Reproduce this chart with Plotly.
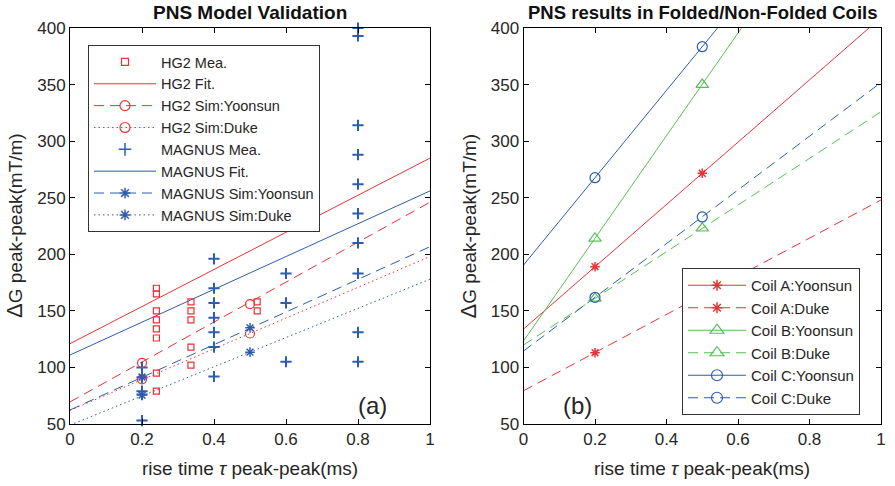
import plotly.graph_objects as go

# ---------------- data: left panel (a) ----------------
hg2_mea_x = [0.24]*8 + [0.336]*5 + [0.52]*2
hg2_mea_y = [170, 165, 150, 142, 134, 126, 95, 79,
             158, 150, 142, 118, 102,
             158, 150]
hg2_fit_x = [0, 1]
hg2_fit_y = [121, 285]
hg2_simY_x = [0.2, 0.5]
hg2_simY_y = [104, 156]
hg2_simY_line = [69.5, 246]
hg2_simD_x = [0.2, 0.5]
hg2_simD_y = [89.5, 130]
hg2_simD_line = [62, 198]

mag_mea_x = [0.2]*5 + [0.4]*7 + [0.6]*3 + [0.8]*10
mag_mea_y = [100, 91, 79, 76, 53,
             196, 170, 157, 144, 131, 118, 92,
             183, 157, 105,
             400, 393, 314, 288, 262, 236, 210, 183, 131, 105]
mag_fit_x = [0, 1]
mag_fit_y = [111, 256]
mag_simY_x = [0.2, 0.5]
mag_simY_y = [91.5, 135]
mag_simY_line = [62.4, 206.7]
mag_simD_x = [0.2, 0.5]
mag_simD_y = [75.6, 113.5]
mag_simD_line = [49, 178]

# ---------------- data: right panel (b) ----------------
line_x = [0, 1]
coil_pts_x = [0.2, 0.5]
coilA_Y = [189, 271.6]
coilA_Y_line = [133.9, 409.2]
coilA_D = [113, 163.7]
coilA_D_line = [79.4, 248]
coilB_Y = [214, 350]
coilB_Y_line = [123.4, 577]
coilB_D = [161, 223]
coilB_D_line = [119.8, 326]
coilC_Y = [267.7, 383.5]
coilC_Y_line = [190.5, 576.5]
coilC_D = [162, 233]
coilC_D_line = [114.5, 351.8]

x_ticks = [0, 0.2, 0.4, 0.6, 0.8, 1]
x_ticktext = ["0", "0.2", "0.4", "0.6", "0.8", "1"]
y_ticks = [50, 100, 150, 200, 250, 300, 350, 400]

RED = "#ec3237"
BLUE = "#2d5daf"
GREEN = "#55c055"
FONT = "Liberation Sans, Arial, sans-serif"
TXT = "#262626"
DASH = "10px,6px"
DOT = "1.5px,3px"

W, H = 895, 486
L1, R1 = 70, 430
L2, R2 = 523.5, 881
TOP, BOT = 28, 424

fig = go.Figure()


def legend_entry(name, color, dash, symbol, msize, legend, mode="lines+markers", mw=1.2):
    fig.add_trace(go.Scatter(
        x=[None], y=[None], name=name, mode=mode, legend=legend,
        line=dict(color=color, width=1, dash=dash),
        marker=dict(symbol=symbol, size=msize, color=color, line=dict(color=color, width=mw)),
        xaxis="x" if legend == "legend" else "x2",
        yaxis="y" if legend == "legend" else "y2"))


def line(xv, yv, color, dash, ax):
    fig.add_trace(go.Scatter(
        x=xv, y=yv, mode="lines", showlegend=False,
        line=dict(color=color, width=1, dash=dash),
        xaxis="x" if ax == 1 else "x2", yaxis="y" if ax == 1 else "y2", hoverinfo="skip"))


def pts(xv, yv, color, symbol, msize, ax, mw=1.2):
    fig.add_trace(go.Scatter(
        x=xv, y=yv, mode="markers", showlegend=False, cliponaxis=False,
        marker=dict(symbol=symbol, size=msize, color=color, line=dict(color=color, width=mw)),
        xaxis="x" if ax == 1 else "x2", yaxis="y" if ax == 1 else "y2"))


# ---- left panel ----
line(hg2_fit_x, hg2_fit_y, RED, "solid", 1)
line(mag_fit_x, mag_fit_y, BLUE, "solid", 1)
line(line_x, hg2_simY_line, RED, DASH, 1)
line(line_x, hg2_simD_line, RED, DOT, 1)
line(line_x, mag_simY_line, BLUE, DASH, 1)
line(line_x, mag_simD_line, BLUE, DOT, 1)
pts(hg2_mea_x, hg2_mea_y, RED, "square-open", 6, 1)
pts(mag_mea_x, mag_mea_y, BLUE, "cross-thin-open", 8, 1, mw=2)
pts(hg2_simY_x, hg2_simY_y, RED, "circle-open", 9, 1)
pts(hg2_simD_x, hg2_simD_y, RED, "circle-open", 9, 1)
pts(mag_simY_x, mag_simY_y, BLUE, "asterisk-open", 8, 1, mw=1.5)
pts(mag_simD_x, mag_simD_y, BLUE, "asterisk-open", 8, 1, mw=1.5)

legend_entry("HG2 Mea.", RED, "solid", "square-open", 7, "legend", mode="markers")
legend_entry("HG2 Fit.", RED, "solid", "circle-open", 1, "legend", mode="lines")
legend_entry("HG2 Sim:Yoonsun", RED, DASH, "circle-open", 10, "legend")
legend_entry("HG2 Sim:Duke", RED, DOT, "circle-open", 10, "legend")
legend_entry("MAGNUS Mea.", BLUE, "solid", "cross-thin-open", 9, "legend", mode="markers", mw=1.5)
legend_entry("MAGNUS Fit.", BLUE, "solid", "circle-open", 1, "legend", mode="lines")
legend_entry("MAGNUS Sim:Yoonsun", BLUE, DASH, "asterisk-open", 9, "legend", mw=1.5)
legend_entry("MAGNUS Sim:Duke", BLUE, DOT, "asterisk-open", 9, "legend", mw=1.5)

# ---- right panel ----
line(line_x, coilA_Y_line, RED, "solid", 2)
line(line_x, coilA_D_line, RED, DASH, 2)
line(line_x, coilB_Y_line, GREEN, "solid", 2)
line(line_x, coilB_D_line, GREEN, DASH, 2)
line(line_x, coilC_Y_line, BLUE, "solid", 2)
line(line_x, coilC_D_line, BLUE, DASH, 2)
pts(coil_pts_x, coilA_Y, RED, "asterisk-open", 8, 2, mw=1.5)
pts(coil_pts_x, coilA_D, RED, "asterisk-open", 8, 2, mw=1.5)
pts(coil_pts_x, coilB_Y, GREEN, "triangle-up-open", 11, 2)
pts(coil_pts_x, coilB_D, GREEN, "triangle-up-open", 11, 2)
pts(coil_pts_x, coilC_Y, BLUE, "circle-open", 10, 2)
pts(coil_pts_x, coilC_D, BLUE, "circle-open", 10, 2)

legend_entry("Coil A:Yoonsun", RED, "solid", "asterisk-open", 9, "legend2", mw=1.5)
legend_entry("Coil A:Duke", RED, DASH, "asterisk-open", 9, "legend2", mw=1.5)
legend_entry("Coil B:Yoonsun", GREEN, "solid", "triangle-up-open", 12, "legend2")
legend_entry("Coil B:Duke", GREEN, DASH, "triangle-up-open", 12, "legend2")
legend_entry("Coil C:Yoonsun", BLUE, "solid", "circle-open", 11, "legend2")
legend_entry("Coil C:Duke", BLUE, DASH, "circle-open", 11, "legend2")

ax_c = dict(
    showgrid=False, zeroline=False, showline=True, linecolor="black", linewidth=1,
    mirror="ticks", ticks="inside", ticklen=5, tickcolor="black", automargin=False,
    tickfont=dict(family=FONT, size=17, color=TXT),
)
ylab = "<span style='font-size:22px'>Δ</span>G peak-peak(mT/m)"
xlab = "rise time <i>τ</i> peak-peak(ms)"


def px(x):
    return x / W


def py(y):
    return 1 - y / H


fig.update_layout(
    width=W, height=H,
    margin=dict(l=0, r=0, t=0, b=0),
    paper_bgcolor="white", plot_bgcolor="white",
    font=dict(family=FONT, color=TXT),
    xaxis=dict(domain=[px(L1), px(R1)], range=[0, 1], tickvals=x_ticks, ticktext=x_ticktext,
               anchor="y", **ax_c),
    yaxis=dict(domain=[py(BOT), py(TOP)], range=[50, 400], tickvals=y_ticks, anchor="x", **ax_c),
    xaxis2=dict(domain=[px(L2), px(R2)], range=[0, 1], tickvals=x_ticks, ticktext=x_ticktext,
                anchor="y2", **ax_c),
    yaxis2=dict(domain=[py(BOT), py(TOP)], range=[50, 400], tickvals=y_ticks, anchor="x2", **ax_c),
    legend=dict(x=px(88), y=py(45), xanchor="left", yanchor="top",
                bgcolor="white", bordercolor="#333", borderwidth=1,
                font=dict(family=FONT, size=14.5, color=TXT), itemwidth=62,
                tracegroupgap=0),
    legend2=dict(x=px(682), y=py(268), xanchor="left", yanchor="top",
                 bgcolor="white", bordercolor="#333", borderwidth=1,
                 font=dict(family=FONT, size=15, color=TXT), itemwidth=58,
                 tracegroupgap=0),
    annotations=[
        dict(text="<b>PNS Model Validation</b>", x=px((L1 + R1) / 2), y=py(12), xref="paper", yref="paper",
             xanchor="center", yanchor="middle",
             showarrow=False, font=dict(family=FONT, size=19, color="#111")),
        dict(text="<b>PNS results in Folded/Non-Folded Coils</b>", x=px((L2 + R2) / 2), y=py(12),
             xanchor="center", yanchor="middle",
             xref="paper", yref="paper", showarrow=False, font=dict(family=FONT, size=18.5, color="#111")),
        dict(text=xlab, x=px((L1 + R1) / 2), y=py(468), xref="paper", yref="paper",
             xanchor="center", yanchor="middle", showarrow=False, font=dict(family=FONT, size=19, color=TXT)),
        dict(text=xlab, x=px((L2 + R2) / 2), y=py(468), xref="paper", yref="paper",
             xanchor="center", yanchor="middle", showarrow=False, font=dict(family=FONT, size=19, color=TXT)),
        dict(text=ylab, x=px(14), y=py((TOP + BOT) / 2), xref="paper", yref="paper", textangle=-90,
             xanchor="center", yanchor="middle", showarrow=False, font=dict(family=FONT, size=19, color=TXT)),
        dict(text=ylab, x=px(L2 - 56), y=py((TOP + BOT) / 2), xref="paper", yref="paper", textangle=-90,
             xanchor="center", yanchor="middle", showarrow=False, font=dict(family=FONT, size=19, color=TXT)),
        dict(text="(a)", x=px(372), y=py(405), xref="paper", yref="paper", showarrow=False,
             xanchor="center", yanchor="middle", font=dict(family=FONT, size=24, color=TXT)),
        dict(text="(b)", x=px(577), y=py(405), xref="paper", yref="paper", showarrow=False,
             xanchor="center", yanchor="middle", font=dict(family=FONT, size=24, color=TXT)),
    ],
)

fig.write_html("out.html")
